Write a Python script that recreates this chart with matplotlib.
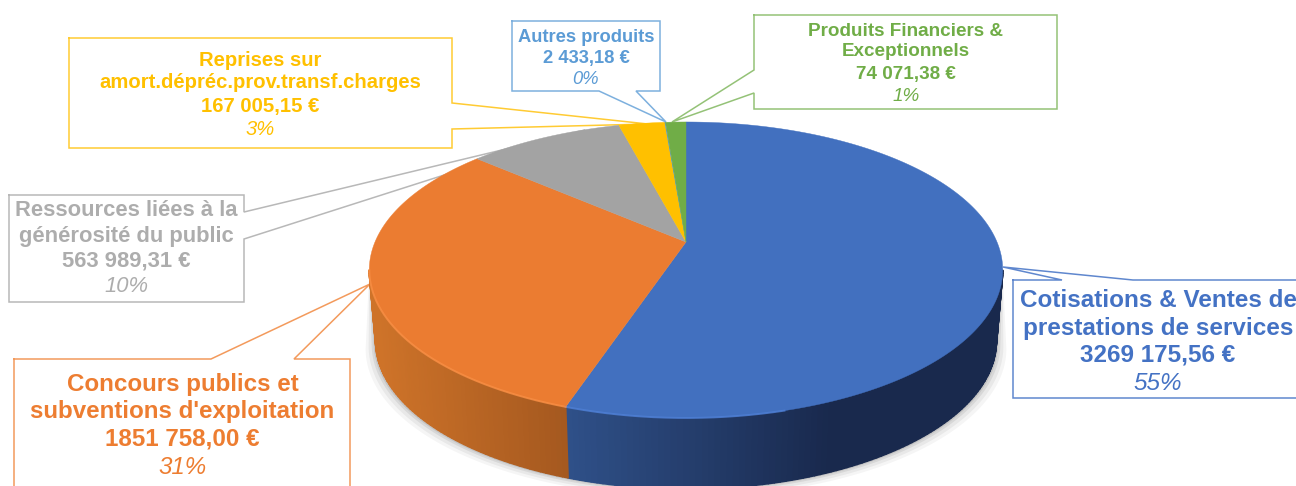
import matplotlib

matplotlib.use('Agg')
import numpy as np
import matplotlib.pyplot as plt
from matplotlib.collections import PolyCollection
from matplotlib.colors import to_rgb

plt.rcParams['font.family'] = ['Liberation Sans', 'DejaVu Sans']

# values, clockwise from the top of the pie
values = [3269175.56, 1851758.00, 563989.31, 167005.15, 2433.18, 74071.38]
names = [
    ['Cotisations & Ventes de', 'prestations de services'],
    ['Concours publics et', "subventions d'exploitation"],
    ['Ressources liées à la', 'générosité du public'],
    ['Reprises sur', 'amort.dépréc.prov.transf.charges'],
    ['Autres produits'],
    ['Produits Financiers &', 'Exceptionnels'],
]
amounts = ['3269 175,56 €', '1851 758,00 €', '563 989,31 €', '167 005,15 €', '2 433,18 €', '74 071,38 €']
percents = ['55%', '31%', '10%', '3%', '0%', '1%']

colors = ['#4270BF', '#EB7C31', '#A3A3A3', '#FFC000', '#5B9BD5', '#70AD47']
text_colors = ['#4472C4', '#ED7D31', '#ADADAD', '#FFC000', '#5B9BD5', '#70AD47']
edge_colors = ['#5F87CE', '#F39A5C', '#B8B8B8', '#FFCB33', '#7DB0DE', '#94C277']

# pie projection, in pixels
CX, CY = 686, 242
R, S, K = 311, 142.7, 0.189
DEPTH = 71
# the side is only seen between the two widest points of the top face
SIDE_FROM, SIDE_TO = np.radians(101), np.radians(259)


def project(theta):
    u, v = np.sin(theta), np.cos(theta)
    w = 1 + K * v
    return CX + R * u / w, CY - S * v / w


def lower(theta):
    x, y = project(theta)
    return CX + (x - CX) * 0.98, y + DEPTH


def side_color(x, i):
    # side shading depends on where we are across the pie
    if i == 1:
        t = np.clip((x - 376) / (568 - 376), 0, 1)
        a, b = to_rgb('#CE7329'), to_rgb('#A4581F')
    elif i == 0:
        t = np.clip((x - 568) / (830 - 568), 0, 1)
        a, b = to_rgb('#2F5088'), to_rgb('#19294D')
    else:
        t = 0
        a = b = to_rgb(colors[i])
    return tuple(a[j] + (b[j] - a[j]) * t for j in range(3))


fig = plt.figure(figsize=(12.96, 4.86), dpi=100)
ax = fig.add_axes([0, 0, 1, 1])
ax.set_xlim(0, 1296)
ax.set_ylim(486, 0)
ax.axis('off')

bounds = 2 * np.pi * np.concatenate([[0], np.cumsum(values)]) / np.sum(values)

# soft shadow under the side
th = np.linspace(SIDE_FROM, SIDE_TO, 200)
for grow, alpha in [(10, 0.04), (7, 0.05), (4, 0.07), (2, 0.09)]:
    lx, ly = lower(th)
    tx, ty = project(th)
    sx = np.concatenate([tx, (CX + (lx - CX) * (1 + grow / 310))[::-1]])
    sy = np.concatenate([ty, (ly + grow * 0.8)[::-1]])
    ax.fill(sx, sy, color='black', alpha=alpha, lw=0, zorder=1)

# callouts: box corners with a tail going to the slice
callouts = [
    [(1013, 280), (1062, 280), (1003, 267), (1133, 280), (1310, 280), (1310, 398), (1013, 398)],
    [(14, 359), (211, 359), (370, 284), (294, 359), (350, 359), (350, 500), (14, 500)],
    [(9, 195), (244, 195), (244, 212), (585, 130), (244, 239), (244, 302), (9, 302)],
    [(69, 38), (452, 38), (452, 103), (648, 124), (452, 129), (452, 148), (69, 148)],
    [(512, 21), (660, 21), (660, 91), (636, 91), (666, 122), (599, 91), (512, 91)],
    [(754, 15), (1057, 15), (1057, 109), (754, 109), (754, 93), (672, 122), (754, 70)],
]
for i, pts in enumerate(callouts):
    p = np.array(pts + [pts[0]])
    ax.plot(p[:, 0], p[:, 1], color=edge_colors[i], lw=1.1, zorder=2, solid_joinstyle='miter')

# side of the pie
polys, fcs = [], []
for i in range(len(values)):
    a, b = max(bounds[i], SIDE_FROM), min(bounds[i + 1], SIDE_TO)
    if b <= a:
        continue
    edges = np.linspace(a, b, int((b - a) * 60) + 2)
    for t0, t1 in zip(edges[:-1], edges[1:]):
        x0, y0 = project(t0)
        x1, y1 = project(t1)
        x2, y2 = lower(t1)
        x3, y3 = lower(t0)
        polys.append([(x0, y0), (x1, y1), (x2, y2), (x3, y3)])
        fcs.append(side_color((x0 + x1) / 2, i))
ax.add_collection(PolyCollection(polys, facecolors=fcs, edgecolors=fcs, linewidths=1.2, zorder=3))

# top face
for i in range(len(values)):
    t = np.linspace(bounds[i], bounds[i + 1], max(int((bounds[i + 1] - bounds[i]) * 80), 2) + 1)
    x, y = project(t)
    ax.fill(np.r_[CX, x], np.r_[CY, y], color=colors[i], lw=0.3, zorder=4)

# brighter rim along the front edge
rim = ['#4F80D6', '#F98F45']
rim_from = [np.radians(165), bounds[1]]
for i in range(2):
    a, b = max(bounds[i], rim_from[i]), min(bounds[i + 1], SIDE_TO)
    x, y = project(np.linspace(a, b, 150))
    ax.plot(x, y, color=rim[i], lw=1.4, alpha=0.8, zorder=5)

# labels: x center, y of each line, font size in points
label_x = [1158, 182.5, 126.5, 260, 586, 906]
label_y = [
    [300, 328, 355, 383],
    [384, 411, 439, 467],
    [210, 236, 261, 286],
    [60, 83, 106, 129],
    [37, 58, 79],
    [31, 52, 74, 96],
]
label_size = [17.5, 17.4, 15.8, 14.6, 13.2, 13.6]
for i in range(len(values)):
    lines = names[i] + [amounts[i], percents[i]]
    for j, line in enumerate(lines):
        last = j == len(lines) - 1
        ax.text(label_x[i], label_y[i][j], line, color=text_colors[i], fontsize=label_size[i],
                fontweight='normal' if last else 'bold', fontstyle='italic' if last else 'normal',
                ha='center', va='center', zorder=6)

fig.savefig('out.png', dpi=100, facecolor='white')
